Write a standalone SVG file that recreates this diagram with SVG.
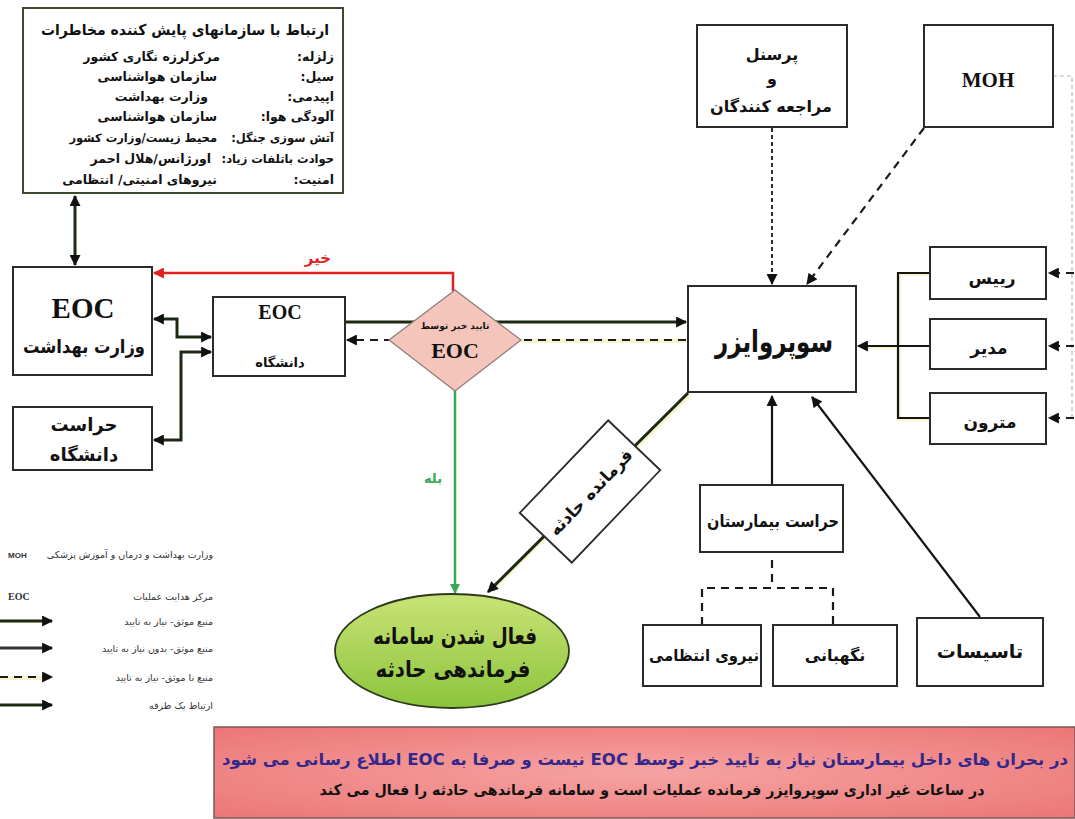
<svg xmlns="http://www.w3.org/2000/svg" width="1075" height="819" viewBox="0 0 1075 819">
  <style>
    .fa { font-family: "DejaVu Sans", "Noto Sans", sans-serif; font-weight: bold; direction: rtl; fill: #111; }
    .lat { font-family: "Liberation Serif", "Times New Roman", serif; font-weight: bold; fill: #111; }
    .box { fill: #fff; stroke: #2b2b2b; stroke-width: 2; }
    .ln { fill: none; stroke: #151515; stroke-width: 2.2; }
    .thick { fill: none; stroke: #1c2a14; stroke-width: 3; }
    .halo { fill: none; stroke: #e6e36a; stroke-width: 4; opacity: 0.35; }
    .dash { fill: none; stroke: #1a1a1a; stroke-width: 2.2; stroke-dasharray: 8 6; }
    .dot { fill: none; stroke: #1a1a1a; stroke-width: 1.8; stroke-dasharray: 4 3; }
    .leg { font-family: "DejaVu Sans", "Noto Sans", sans-serif; font-size: 9.5px; fill: #333; direction: rtl; }
  </style>
  <defs>
    <marker id="ah" viewBox="0 0 10 10" refX="9" refY="5" markerWidth="12" markerHeight="11" markerUnits="userSpaceOnUse" orient="auto-start-reverse">
      <path d="M0,0 L10,5 L0,10 z" fill="#111"/>
    </marker>
    <marker id="ahRed" viewBox="0 0 10 10" refX="9" refY="5" markerWidth="13" markerHeight="11" markerUnits="userSpaceOnUse" orient="auto">
      <path d="M0,0 L10,5 L0,10 z" fill="#e32020"/>
    </marker>
    <marker id="ahGreen" viewBox="0 0 10 10" refX="9" refY="5" markerWidth="12" markerHeight="10" markerUnits="userSpaceOnUse" orient="auto">
      <path d="M0,0 L10,5 L0,10 z" fill="#3aa85a"/>
    </marker>
    <linearGradient id="ellFill" x1="0" y1="0" x2="0" y2="1">
      <stop offset="0" stop-color="#c9e376"/>
      <stop offset="1" stop-color="#8cc43c"/>
    </linearGradient>
    <radialGradient id="bannerFill" cx="0.5" cy="0.5" r="0.7">
      <stop offset="0" stop-color="#f6a3a3"/>
      <stop offset="1" stop-color="#ec7676"/>
    </radialGradient>
  </defs>

  <!-- connectors -->
  <g id="connectors">
    <!-- hazard box <-> ministry EOC -->
    <path class="thick" d="M75,196 V265" marker-start="url(#ah)" marker-end="url(#ah)"/>
    <!-- "no" branch -->
    <path d="M453,291 V273 H154" fill="none" stroke="#e32020" stroke-width="2.5" marker-end="url(#ahRed)"/>
    <!-- ministry EOC / university EOC / university security -->
    <path class="thick" d="M154,319 H177 V337 H211" marker-start="url(#ah)" marker-end="url(#ah)"/>
    <path class="thick" d="M211,352 H181 V440 H154" marker-start="url(#ah)" marker-end="url(#ah)"/>
    <!-- university EOC -> supervisor, supervisor -> university EOC (dashed) -->
    <path class="thick" d="M345,322 H686" marker-end="url(#ah)"/>
    <path class="halo" d="M520,341 H686"/>
    <path class="dash" d="M686,340 H347" marker-end="url(#ah)"/>
    <!-- "yes" branch -->
    <path d="M455,390 V593" fill="none" stroke="#3aa85a" stroke-width="2.5" marker-end="url(#ahGreen)"/>
    <!-- supervisor -> incident command -->
    <path class="halo" d="M689,395 L492,590"/>
    <path class="thick" d="M688,393 L488,592" marker-end="url(#ah)"/>
    <!-- staff -> supervisor -->
    <path class="dot" d="M772,128 V284" marker-end="url(#ah)"/>
    <!-- MOH -> supervisor -->
    <path class="dash" d="M924,128 L807,284" stroke-dasharray="6 5" marker-end="url(#ah)"/>
    <!-- managers bracket -->
    <path class="halo" d="M930,274 H899 V419 H930 M899,347 H860"/>
    <path class="ln" d="M930,273 H898 V418 H930"/>
    <path class="ln" d="M930,346 H858" marker-end="url(#ah)"/>
    <!-- MOH -> managers (dashed) -->
    <path d="M1053,76 H1072 V418" fill="none" stroke="#999" stroke-width="1.2" stroke-dasharray="4 3" opacity="0.7"/>
    <path class="dash" d="M1074,273 H1049" stroke-dasharray="4 3" marker-end="url(#ah)"/>
    <path class="dash" d="M1074,346 H1049" stroke-dasharray="4 3" marker-end="url(#ah)"/>
    <path class="dash" d="M1074,418 H1049" stroke-dasharray="4 3" marker-end="url(#ah)"/>
    <!-- hospital security -> supervisor -->
    <path class="ln" d="M772,485 V396" marker-end="url(#ah)"/>
    <!-- facilities -> supervisor -->
    <path class="ln" d="M980,617 L812,397" marker-end="url(#ah)"/>
    <!-- hospital security tree (dashed) -->
    <path class="dash" d="M772,560 V588 M702,625 V588 H833 V625"/>
  </g>

  <!-- hazard monitoring organisations -->
  <g id="hazard-orgs">
    <rect x="23" y="8" width="320" height="185" fill="#fff" stroke="#3d4a2f" stroke-width="2"/>
    <text class="fa" x="185" y="35" font-size="15" text-anchor="middle" textLength="288" lengthAdjust="spacingAndGlyphs">ارتباط با سازمانهای پایش کننده مخاطرات</text>
    <g font-size="12.5">
      <text class="fa" x="334" y="61" text-anchor="start">زلزله:</text>
      <text class="fa" x="220" y="61" text-anchor="start">مرکزلرزه نگاری کشور</text>
      <text class="fa" x="334" y="81" text-anchor="start">سیل:</text>
      <text class="fa" x="217" y="81" text-anchor="start">سازمان هواشناسی</text>
      <text class="fa" x="334" y="101" text-anchor="start">اپیدمی:</text>
      <text class="fa" x="208" y="101" text-anchor="start">وزارت بهداشت</text>
      <text class="fa" x="334" y="121" text-anchor="start">آلودگی هوا:</text>
      <text class="fa" x="217" y="121" text-anchor="start">سازمان هواشناسی</text>
      <text class="fa" x="334" y="142" font-size="11.5" text-anchor="start">آتش سوزی جنگل:</text>
      <text class="fa" x="217" y="142" font-size="11.5" text-anchor="start">محیط زیست/وزارت کشور</text>
      <text class="fa" x="334" y="163" font-size="11.5" text-anchor="start">حوادث باتلفات زیاد:</text>
      <text class="fa" x="211" y="163" text-anchor="start">اورژانس/هلال احمر</text>
      <text class="fa" x="334" y="184" text-anchor="start">امنیت:</text>
      <text class="fa" x="217" y="184" text-anchor="start">نیروهای امنیتی/ انتظامی</text>
    </g>
  </g>

  <!-- ministry EOC -->
  <g id="ministry-eoc">
    <rect class="box" x="13" y="267" width="139" height="108"/>
    <text class="lat" x="83" y="318" font-size="29" text-anchor="middle">EOC</text>
    <text class="fa" x="84" y="353" font-size="19" text-anchor="middle" textLength="122" lengthAdjust="spacingAndGlyphs">وزارت بهداشت</text>
  </g>

  <!-- university security -->
  <g id="university-security">
    <rect class="box" x="13" y="407" width="139" height="63"/>
    <text class="fa" x="84" y="431" font-size="18" text-anchor="middle">حراست</text>
    <text class="fa" x="84" y="461" font-size="18" text-anchor="middle">دانشگاه</text>
  </g>

  <!-- university EOC -->
  <g id="university-eoc">
    <rect class="box" x="213" y="297" width="132" height="79"/>
    <text class="lat" x="280" y="319" font-size="20" text-anchor="middle">EOC</text>
    <text class="fa" x="280" y="367" font-size="13" text-anchor="middle">دانشگاه</text>
  </g>

  <!-- confirmation decision -->
  <g id="eoc-decision">
    <path d="M455,290 L521,340 L455,391 L389,340 z" fill="#f5c5bc" stroke="#8a7a78" stroke-width="1.2"/>
    <text class="fa" x="455" y="329" font-size="9" font-weight="normal" text-anchor="middle">تایید خبر توسط</text>
    <text class="lat" x="455" y="358" font-size="22" text-anchor="middle">EOC</text>
  </g>

  <!-- branch labels -->
  <text id="label-no" class="fa" x="318" y="263" font-size="15" style="fill:#e32020" text-anchor="middle">خیر</text>
  <text id="label-yes" class="fa" x="433" y="483" font-size="13" style="fill:#3aa85a" text-anchor="middle">بله</text>

  <!-- incident commander tag on the diagonal -->
  <g id="incident-commander" transform="translate(590,491.5) rotate(-46.3)">
    <rect x="-64" y="-36" width="128" height="72" fill="#fff" stroke="#2b2b2b" stroke-width="1.8"/>
    <text class="fa" x="0" y="7" font-size="17" text-anchor="middle" textLength="112" lengthAdjust="spacingAndGlyphs">فرمانده حادثه</text>
  </g>

  <!-- incident command system activation -->
  <g id="ics-activation">
    <ellipse cx="452" cy="651" rx="117" ry="57" fill="url(#ellFill)" stroke="#2b3a1a" stroke-width="1.8"/>
    <text class="fa" x="455" y="644" font-size="23" text-anchor="middle" textLength="164" lengthAdjust="spacingAndGlyphs">فعال شدن سامانه</text>
    <text class="fa" x="453" y="677" font-size="23" text-anchor="middle" textLength="155" lengthAdjust="spacingAndGlyphs">فرماندهی حادثه</text>
  </g>

  <!-- staff and visitors -->
  <g id="staff">
    <rect class="box" x="697" y="25" width="150" height="102"/>
    <text class="fa" x="772" y="60" font-size="16" text-anchor="middle">پرسنل</text>
    <text class="fa" x="772" y="84" font-size="16" text-anchor="middle">و</text>
    <text class="fa" x="771" y="112" font-size="16" text-anchor="middle">مراجعه کنندگان</text>
  </g>

  <!-- MOH -->
  <g id="moh">
    <rect class="box" x="924" y="25" width="129" height="102"/>
    <text class="lat" x="988" y="87" font-size="21" text-anchor="middle">MOH</text>
  </g>

  <!-- supervisor -->
  <g id="supervisor">
    <rect class="box" x="688" y="286" width="168" height="106"/>
    <text class="fa" x="774" y="352" font-size="30" text-anchor="middle" textLength="118" lengthAdjust="spacingAndGlyphs">سوپروایزر</text>
  </g>

  <!-- managers -->
  <g id="head">
    <rect class="box" x="930" y="247" width="116" height="52"/>
    <text class="fa" x="992" y="284" font-size="17" font-weight="normal" text-anchor="middle">رییس</text>
  </g>
  <g id="director">
    <rect class="box" x="930" y="319" width="116" height="50"/>
    <text class="fa" x="989" y="354" font-size="17" text-anchor="middle">مدیر</text>
  </g>
  <g id="matron">
    <rect class="box" x="930" y="393" width="116" height="51"/>
    <text class="fa" x="990" y="428" font-size="17" text-anchor="middle">مترون</text>
  </g>

  <!-- hospital security -->
  <g id="hospital-security">
    <rect class="box" x="700" y="485" width="143" height="67"/>
    <text class="fa" x="773" y="527" font-size="17" text-anchor="middle" textLength="132" lengthAdjust="spacingAndGlyphs">حراست بیمارستان</text>
  </g>
  <g id="police">
    <rect class="box" x="643" y="625" width="118" height="61"/>
    <text class="fa" x="704" y="661" font-size="16" text-anchor="middle" textLength="110" lengthAdjust="spacingAndGlyphs">نیروی انتظامی</text>
  </g>
  <g id="guards">
    <rect class="box" x="773" y="625" width="124" height="61"/>
    <text class="fa" x="835" y="661" font-size="16" text-anchor="middle">نگهبانی</text>
  </g>
  <g id="facilities">
    <rect class="box" x="917" y="618" width="126" height="68"/>
    <text class="fa" x="980" y="658" font-size="19" text-anchor="middle">تاسیسات</text>
  </g>

  <!-- legend -->
  <g id="legend">
    <text x="8" y="558" font-family="Liberation Sans, Arial, sans-serif" font-size="8" font-weight="bold" fill="#333">MOH</text>
    <text class="leg" x="213" y="558" text-anchor="start">وزارت بهداشت و درمان و آموزش پزشکی</text>
    <text x="8" y="600" font-family="Liberation Serif, serif" font-size="10" font-weight="bold" fill="#333">EOC</text>
    <text class="leg" x="213" y="600" text-anchor="start">مرکز هدایت عملیات</text>
    <path class="halo" d="M0,621 H50"/>
    <path class="thick" d="M0,621 H52" marker-end="url(#ah)"/>
    <text class="leg" x="213" y="625" text-anchor="start">منبع موثق- نیاز به تایید</text>
    <path d="M0,648 H52" fill="none" stroke="#333" stroke-width="3" marker-end="url(#ah)"/>
    <text class="leg" x="213" y="652" text-anchor="start">منبع موثق- بدون نیاز به تایید</text>
    <path class="halo" d="M0,678 H50"/>
    <path class="dash" d="M0,677 H52" stroke-width="3" marker-end="url(#ah)"/>
    <text class="leg" x="213" y="681" text-anchor="start">منبع نا موثق- نیاز به تایید</text>
    <path class="thick" d="M0,705 H52" marker-end="url(#ah)"/>
    <text class="leg" x="213" y="709" text-anchor="start">ارتباط یک طرفه</text>
  </g>

  <!-- note banner -->
  <g id="note">
    <rect x="214" y="727" width="861" height="91" fill="url(#bannerFill)" stroke="#7a5a5a" stroke-width="1.5"/>
    <text class="fa" x="645" y="765" font-size="16" style="fill:#33288a" text-anchor="middle" textLength="846" lengthAdjust="spacingAndGlyphs">در بحران های داخل بیمارستان نیاز به تایید خبر توسط EOC نیست و صرفا به EOC اطلاع رسانی می شود</text>
    <text class="fa" x="652" y="795" font-size="15" text-anchor="middle" textLength="665" lengthAdjust="spacingAndGlyphs">در ساعات غیر اداری سوپروایزر فرمانده عملیات است و سامانه فرماندهی حادثه را فعال می کند</text>
  </g>
</svg>
